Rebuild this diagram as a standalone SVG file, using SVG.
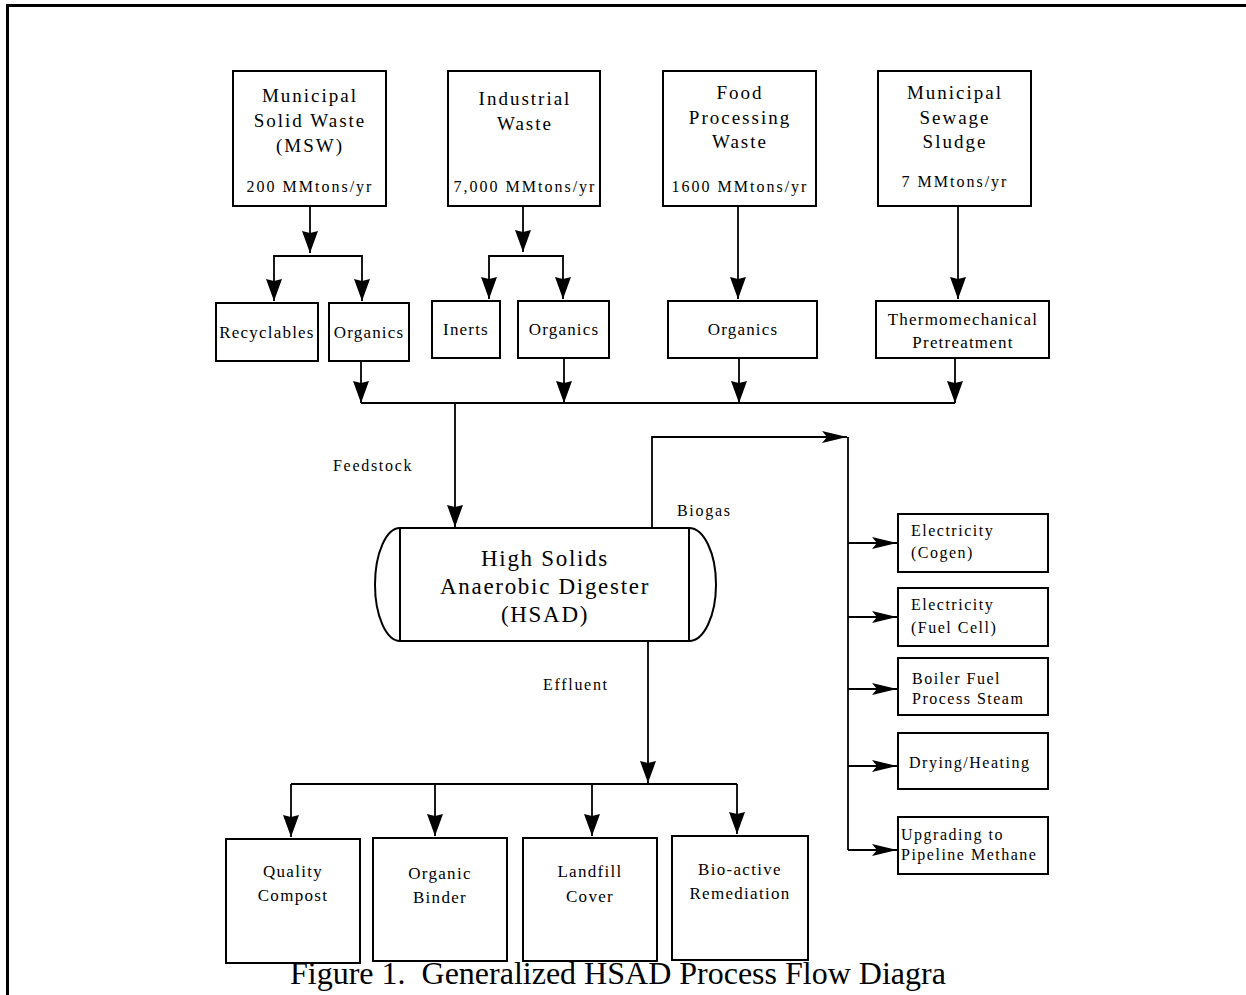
<svg xmlns="http://www.w3.org/2000/svg" width="1246" height="995" viewBox="0 0 1246 995">
<defs>
<marker id="av" markerUnits="userSpaceOnUse" viewBox="0 0 22 16" markerWidth="22" markerHeight="16" refX="22" refY="8" orient="auto">
<path d="M0,0 L22,8 L0,16 L2,8 Z" fill="#000"/>
</marker>
<marker id="ah" markerUnits="userSpaceOnUse" viewBox="0 0 25 12" markerWidth="25" markerHeight="12" refX="25" refY="6" orient="auto">
<path d="M0,0 L25,6 L0,12 L5,6 Z" fill="#000"/>
</marker>
</defs>
<style>
text{font-family:"Liberation Serif","Times New Roman",serif;fill:#000}
.box{fill:#fff;stroke:#000;stroke-width:2}
.c{fill:none;stroke:#000;stroke-width:1.8}
.t1{font-size:19px;letter-spacing:2px;text-anchor:middle}
.q{font-size:16px;letter-spacing:2px;text-anchor:middle}
.t2{font-size:17px;letter-spacing:1.2px;text-anchor:middle}
.t3{font-size:16px;letter-spacing:1.5px}
.t4{font-size:17px;letter-spacing:1.3px;text-anchor:middle}
.lb{font-size:16px;letter-spacing:1.7px}
.dg{font-size:23px;letter-spacing:1.7px;text-anchor:middle}
.cap{font-size:32px}
</style>
<rect width="1246" height="995" fill="#fff"/>
<path d="M7.5,995 V5.5 H1246" fill="none" stroke="#000" stroke-width="3"/>

<g id="connectors">
<path class="c" d="M310,206 V253" marker-end="url(#av)"/>
<path class="c" d="M310,256 H274 V301" marker-end="url(#av)"/>
<path class="c" d="M310,256 H362 V301" marker-end="url(#av)"/>
<path class="c" d="M523,206 V252" marker-end="url(#av)"/>
<path class="c" d="M523,256 H489 V299" marker-end="url(#av)"/>
<path class="c" d="M523,256 H563 V299" marker-end="url(#av)"/>
<path class="c" d="M738,206 V299" marker-end="url(#av)"/>
<path class="c" d="M958,206 V299" marker-end="url(#av)"/>
<path class="c" d="M361,361 V403" marker-end="url(#av)"/>
<path class="c" d="M564,358 V403" marker-end="url(#av)"/>
<path class="c" d="M739,358 V403" marker-end="url(#av)"/>
<path class="c" d="M955,358 V403" marker-end="url(#av)"/>
<path class="c" d="M361,403 H955"/>
<path class="c" d="M455,403 V527" marker-end="url(#av)"/>
<path class="c" d="M652,528 V437 H847" marker-end="url(#ah)"/>
<path class="c" d="M848,437 V850"/>
<path class="c" d="M848,543 H897" marker-end="url(#ah)"/>
<path class="c" d="M848,617 H897" marker-end="url(#ah)"/>
<path class="c" d="M848,689 H897" marker-end="url(#ah)"/>
<path class="c" d="M848,766 H897" marker-end="url(#ah)"/>
<path class="c" d="M848,850 H897" marker-end="url(#ah)"/>
<path class="c" d="M648,641 V783" marker-end="url(#av)"/>
<path class="c" d="M291,784 H737"/>
<path class="c" d="M291,784 V837" marker-end="url(#av)"/>
<path class="c" d="M435,784 V836" marker-end="url(#av)"/>
<path class="c" d="M592,784 V836" marker-end="url(#av)"/>
<path class="c" d="M737,784 V834" marker-end="url(#av)"/>
<text class="lb" x="333" y="471">Feedstock</text>
<text class="lb" x="677" y="516">Biogas</text>
<text class="lb" x="543" y="690">Effluent</text>
</g>

<g id="msw">
<rect class="box" x="233" y="71" width="153" height="135"/>
<text class="t1" x="310" y="102">Municipal</text>
<text class="t1" x="310" y="127">Solid Waste</text>
<text class="t1" x="310" y="152">(MSW)</text>
<text class="q" x="310" y="192">200 MMtons/yr</text>
</g>
<g id="industrial">
<rect class="box" x="448" y="71" width="152" height="135"/>
<text class="t1" x="525" y="105">Industrial</text>
<text class="t1" x="525" y="130">Waste</text>
<text class="q" x="525" y="192">7,000 MMtons/yr</text>
</g>
<g id="food">
<rect class="box" x="663" y="71" width="153" height="135"/>
<text class="t1" x="740" y="99">Food</text>
<text class="t1" x="740" y="124">Processing</text>
<text class="t1" x="740" y="148">Waste</text>
<text class="q" x="740" y="192">1600 MMtons/yr</text>
</g>
<g id="sewage">
<rect class="box" x="878" y="71" width="153" height="135"/>
<text class="t1" x="955" y="99">Municipal</text>
<text class="t1" x="955" y="124">Sewage</text>
<text class="t1" x="955" y="148">Sludge</text>
<text class="q" x="955" y="187">7 MMtons/yr</text>
</g>

<g id="recyclables">
<rect class="box" x="216" y="303" width="102" height="58"/>
<text class="t2" x="267" y="338">Recyclables</text>
</g>
<g id="organics-msw">
<rect class="box" x="329" y="303" width="80" height="58"/>
<text class="t2" x="369" y="338">Organics</text>
</g>
<g id="inerts">
<rect class="box" x="432" y="301" width="68" height="57"/>
<text class="t2" x="466" y="335">Inerts</text>
</g>
<g id="organics-ind">
<rect class="box" x="518" y="301" width="91" height="57"/>
<text class="t2" x="564" y="335">Organics</text>
</g>
<g id="organics-food">
<rect class="box" x="668" y="301" width="149" height="57"/>
<text class="t2" x="743" y="335">Organics</text>
</g>
<g id="pretreatment">
<rect class="box" x="876" y="301" width="173" height="57"/>
<text class="t2" x="963" y="325">Thermomechanical</text>
<text class="t2" x="963" y="348">Pretreatment</text>
</g>

<g id="hsad">
<path class="box" d="M400,528 A25,56.5 0 0 0 400,641"/>
<path class="box" d="M689,528 A27,56.5 0 0 1 689,641"/>
<rect class="box" x="400" y="528" width="289" height="113"/>
<text class="dg" x="545" y="566">High Solids</text>
<text class="dg" x="545" y="594">Anaerobic Digester</text>
<text class="dg" x="545" y="622">(HSAD)</text>
</g>

<g id="cogen">
<rect class="box" x="898" y="514" width="150" height="58"/>
<text class="t3" x="911" y="536">Electricity</text>
<text class="t3" x="911" y="558">(Cogen)</text>
</g>
<g id="fuelcell">
<rect class="box" x="898" y="588" width="150" height="58"/>
<text class="t3" x="911" y="610">Electricity</text>
<text class="t3" x="911" y="633">(Fuel Cell)</text>
</g>
<g id="boiler">
<rect class="box" x="898" y="658" width="150" height="57"/>
<text class="t3" x="912" y="684">Boiler Fuel</text>
<text class="t3" x="912" y="704">Process Steam</text>
</g>
<g id="drying">
<rect class="box" x="898" y="733" width="150" height="56"/>
<text class="t3" x="909" y="768">Drying/Heating</text>
</g>
<g id="upgrading">
<rect class="box" x="898" y="817" width="150" height="57"/>
<text class="t3" x="901" y="840">Upgrading to</text>
<text class="t3" x="901" y="860">Pipeline Methane</text>
</g>

<g id="compost">
<rect class="box" x="226" y="839" width="134" height="124"/>
<text class="t4" x="293" y="877">Quality</text>
<text class="t4" x="293" y="901">Compost</text>
</g>
<g id="binder">
<rect class="box" x="373" y="838" width="134" height="123"/>
<text class="t4" x="440" y="879">Organic</text>
<text class="t4" x="440" y="903">Binder</text>
</g>
<g id="landfill">
<rect class="box" x="523" y="838" width="134" height="123"/>
<text class="t4" x="590" y="877">Landfill</text>
<text class="t4" x="590" y="902">Cover</text>
</g>
<g id="remediation">
<rect class="box" x="672" y="836" width="136" height="124"/>
<text class="t4" x="740" y="875">Bio-active</text>
<text class="t4" x="740" y="899">Remediation</text>
</g>

<text class="cap" x="290" y="984" xml:space="preserve">Figure 1.  Generalized HSAD Process Flow Diagra</text>
</svg>
